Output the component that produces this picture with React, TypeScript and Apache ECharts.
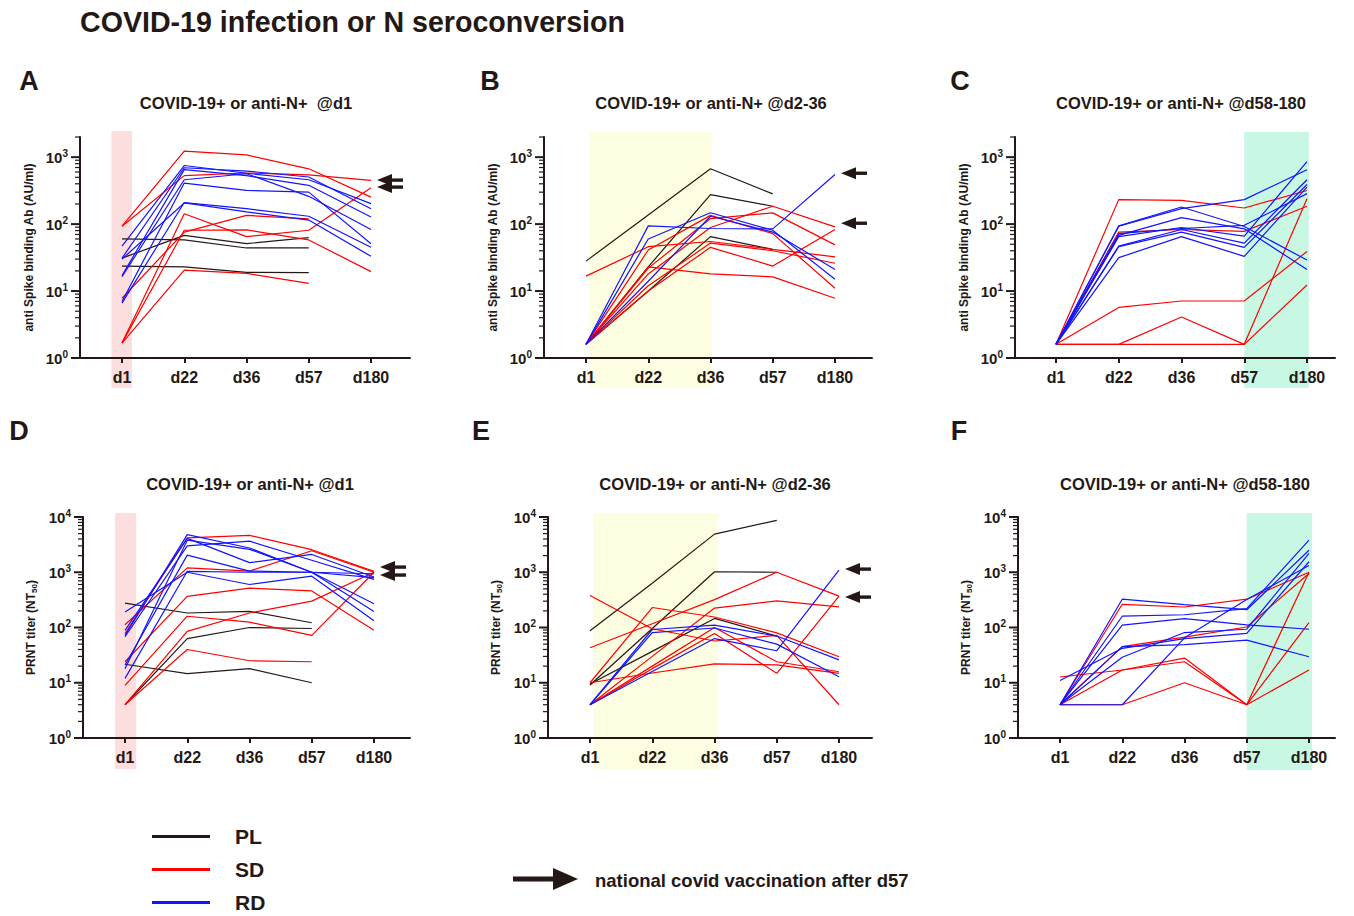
import React, { useEffect, useRef } from 'react';
import * as echarts from 'echarts';

const DAYS = ['d1', 'd22', 'd36', 'd57', 'd180'];
const GROUPS = ['PL', 'SD', 'RD'];

// Panel A: anti-Spike Ab, infected @d1
const A_PL = [[60, 58, 44, 44, null], [31, 68, 51, 63, null], [23.6, 23, 19, 18.8, null]];
const A_SD = [[93, 1230, 1080, 670, 253], [93, 530, 580, 545, 450], [1.67, 143, 65, 81, 350], [1.67, 81, 82, 58, 19.5], [1.67, 20.6, 18.4, 13, null], [7.8, 76, 135, 120, null]];
const A_RD = [[47, 750, 575, 460, 202], [31, 695, 620, 505, 170], [17, 650, 530, 380, 128], [16.4, 460, 565, 260, 83], [7, 410, 318, 300, 51], [6.6, 210, 170, 131, 45], [30, 207, 152, 115, 33]];
const A_ARROWS = [454, 357];

// Panel B: anti-Spike Ab, infected @d2-36
const B_PL = [[28, 137, 670, 283, null], [1.6, 23, 275, 185, null], [1.6, 10, 65, 42, null]];
const B_SD = [[16.7, 46, 55, 42, 32.5], [1.6, 41, 135, 72, 11], [1.6, 23, 18, 16.3, 7.8], [1.6, 22, 121, 147, 49], [1.6, 18, 89, 185, 91], [1.6, 12, 52, 40, 26], [1.6, 10, 45, 23.6, 83]];
const B_RD = [[1.6, 94, 86, 85, 550], [1.6, 60, 148, 81, 15], [1.6, 14, 131, 76, 21]];
const B_ARROWS = [575, 103];

// Panel C: anti-Spike Ab, infected @d58-180
const C_PL: (number | null)[][] = [];
const C_SD = [[1.6, 232, 226, 174, 318], [1.6, 76, 83, 78, 185], [1.6, 5.7, 7.1, 7.1, 39], [1.6, 1.6, 4.1, 1.6, 240], [1.6, 1.6, 1.6, 1.6, 12.3]];
const C_RD = [[1.6, 94, 180, 92, 29], [1.6, 93, 170, 232, 650], [1.6, 68, 125, 85, 21], [1.6, 65, 89, 66, 860], [1.6, 47, 83, 52, 460], [1.6, 46, 76, 45, 390], [1.6, 31.5, 65, 33, 357], [1.6, 72, 86, 96, 285]];
const C_ARROWS: number[] = [];

// Panel D: PRNT titer, infected @d1
const D_PL = [[277, 183, 196, 122, null], [4, 63, 100, 96, null], [21.6, 14.6, 18, 10, null]];
const D_SD = [[78, 4200, 4650, 2560, 1040], [112, 1200, 1050, 2450, 1000], [24, 365, 517, 460, 89], [9, 160, 125, 72, 1000], [4, 85, 183, 300, 1000], [4, 40, 25, 24, null]];
const D_RD = [[72, 4800, 2750, 1000, 195], [89, 4100, 1490, 2100, 820], [68, 3000, 3650, 1650, 745], [21, 2040, 1050, 1000, 270], [12, 1040, 1000, 1000, 940], [190, 1000, 600, 850, 132], [18, 3800, 2600, 1000, 800]];
const D_ARROWS = [1240, 890];

// Panel E: PRNT titer, infected @d2-36
const E_PL = [[87, 630, 4900, 8700, null], [9.1, 96, 1020, 1000, null], [9.5, 37, 146, 70, null]];
const E_SD = [[380, 95, 57, 72, 4], [43, 117, 320, 1000, 370], [10, 230, 155, 80, 29.5], [4, 30, 225, 303, 237], [10, 15, 22, 21, 14.8], [4, 18, 78, 14.8, 370], [4, 20, 100, 24, 15.8]];
const E_RD = [[4, 92, 110, 70, 26], [4, 81, 98, 50, 12.8], [4, 16, 63, 38, 1090]];
const E_ARROWS = [1140, 355];

// Panel F: PRNT titer, infected @d58-180
const F_PL: (number | null)[][] = [];
const F_SD = [[4, 263, 235, 325, 1000], [4, 45, 67, 102, 950], [12.7, 17, 28, 4, 1000], [4, 17, 24, 4, 123], [4, 4, 10, 4, 17]];
const F_RD = [[4, 325, 260, 210, 2500], [4, 160, 170, 220, 3800], [4, 110, 145, 112, 93], [11, 42, 63, 78, 1550], [4, 29, 81, 93, 2200], [4, 45, 49, 59, 29.5], [4, 4, 65, 320, 1330]];
const F_ARROWS: number[] = [];

const INK = '#231815';
const RED = '#ff0000';
const BLUE = '#1414ff';
const PINK = '#fcdede';
const YELLOW = '#fdfde2';
const MINT = '#c8f7e4';
const FONT = '"Liberation Sans", Arial, Helvetica, sans-serif';

const PANELS = [
  { letter: 'A', sub: 'COVID-19+ or anti-N+  @d1', left: 80, right: 410, d1: 122, d180: 371, top: 137, bottom: 358, max: 2000, yName: 'anti Spike binding Ab (AU/ml)', pl: A_PL, sd: A_SD, rd: A_RD, arrows: A_ARROWS, shade: [-0.17, 0.16], shadeColor: PINK, ext: [6, 30], lx: 29, ly: 81, sx: 246, sy: 103 },
  { letter: 'B', sub: 'COVID-19+ or anti-N+ @d2-36', left: 544, right: 872, d1: 586, d180: 835, top: 137, bottom: 358, max: 2000, yName: 'anti Spike binding Ab (AU/ml)', pl: B_PL, sd: B_SD, rd: B_RD, arrows: B_ARROWS, shade: [0.05, 2.02], shadeColor: YELLOW, ext: [5, 30], lx: 490, ly: 81, sx: 711, sy: 103 },
  { letter: 'C', sub: 'COVID-19+ or anti-N+ @d58-180', left: 1015, right: 1335, d1: 1056, d180: 1307, top: 137, bottom: 358, max: 2000, yName: 'anti Spike binding Ab (AU/ml)', pl: C_PL, sd: C_SD, rd: C_RD, arrows: C_ARROWS, shade: [3.0, 4.03], shadeColor: MINT, ext: [5, 30], lx: 960, ly: 81, sx: 1181, sy: 103 },
  { letter: 'D', sub: 'COVID-19+ or anti-N+ @d1', left: 83, right: 410, d1: 125, d180: 374, top: 517, bottom: 738, max: 10000, yName: 'PRNT titer (NT{sub|50})', pl: D_PL, sd: D_SD, rd: D_RD, arrows: D_ARROWS, shade: [-0.16, 0.18], shadeColor: PINK, ext: [4, 31], lx: 19, ly: 431, sx: 250, sy: 484 },
  { letter: 'E', sub: 'COVID-19+ or anti-N+ @d2-36', left: 548, right: 872, d1: 590, d180: 839, top: 517, bottom: 738, max: 10000, yName: 'PRNT titer (NT{sub|50})', pl: E_PL, sd: E_SD, rd: E_RD, arrows: E_ARROWS, shade: [0.05, 2.06], shadeColor: YELLOW, ext: [4, 32], lx: 481, ly: 431, sx: 715, sy: 484 },
  { letter: 'F', sub: 'COVID-19+ or anti-N+ @d58-180', left: 1018, right: 1335, d1: 1060, d180: 1309, top: 517, bottom: 738, max: 10000, yName: 'PRNT titer (NT{sub|50})', pl: F_PL, sd: F_SD, rd: F_RD, arrows: F_ARROWS, shade: [3.0, 4.05], shadeColor: MINT, ext: [4, 32], lx: 959, ly: 431, sx: 1185, sy: 484 },
];

function logTickValues(max: number) {
  const out: number[] = [];
  for (let e = 0; Math.pow(10, e) <= max; e++) {
    for (let m = 1; m <= 9; m++) {
      const v = m * Math.pow(10, e);
      if (v <= max * 1.0001) out.push(v);
    }
  }
  return out;
}

function buildOption() {
  const series: any[] = [];
  const graphic: any[] = [];

  PANELS.forEach((p, i) => {
    // shaded window
    series.push({
      type: 'custom',
      xAxisIndex: i,
      yAxisIndex: i,
      z: 1,
      silent: true,
      clip: false,
      data: [[p.shade[0], 1, p.shade[1]]],
      encode: { x: 0, y: 1 },
      renderItem: (params: any, api: any) => {
        const cs = params.coordSys;
        const x0 = api.coord([api.value(0), 1])[0];
        const x1 = api.coord([api.value(2), 1])[0];
        return {
          type: 'rect',
          shape: { x: x0, y: cs.y - p.ext[0], width: x1 - x0, height: cs.height + p.ext[0] + p.ext[1] },
          style: { fill: p.shadeColor },
        };
      },
    });
    // y-axis log ticks (major + minor)
    series.push({
      type: 'custom',
      xAxisIndex: i,
      yAxisIndex: i,
      z: 4,
      silent: true,
      clip: false,
      data: logTickValues(p.max).map((v) => [0, v]),
      encode: { x: 0, y: 1 },
      renderItem: (params: any, api: any) => {
        const cs = params.coordSys;
        const v = api.value(1);
        const y = api.coord([0, v])[1];
        const lg = Math.log10(v);
        const major = Math.abs(lg - Math.round(lg)) < 1e-6;
        const len = major ? 9 : 5;
        return {
          type: 'line',
          shape: { x1: cs.x - len, y1: y, x2: cs.x, y2: y },
          style: { stroke: INK, lineWidth: major ? 2 : 1.2 },
        };
      },
    });
    // lines
    const groups = [p.pl, p.sd, p.rd];
    const colors = [INK, RED, BLUE];
    groups.forEach((rows, g) => {
      rows.forEach((row: any[]) => {
        series.push({
          type: 'line',
          name: GROUPS[g],
          xAxisIndex: i,
          yAxisIndex: i,
          z: 3,
          silent: true,
          symbol: 'none',
          showSymbol: false,
          lineStyle: { color: colors[g], width: 1.2 },
          itemStyle: { color: colors[g] },
          emphasis: { disabled: true },
          data: row.map((v, j) => (v == null ? null : [j, v])).filter((d) => d != null),
        });
      });
    });
    // vaccination arrows
    if (p.arrows.length) {
      series.push({
        type: 'custom',
        xAxisIndex: i,
        yAxisIndex: i,
        z: 5,
        silent: true,
        clip: false,
        data: p.arrows.map((v) => [4, v]),
        encode: { x: 0, y: 1 },
        renderItem: (params: any, api: any) => {
          const pt = api.coord([api.value(0), api.value(1)]);
          const tx = pt[0] + 6;
          const ty = pt[1];
          return {
            type: 'group',
            children: [
              { type: 'polygon', shape: { points: [[tx, ty], [tx + 15, ty - 6], [tx + 15, ty + 6]] }, style: { fill: INK } },
              { type: 'rect', shape: { x: tx + 13, y: ty - 1.7, width: 13, height: 3.4 }, style: { fill: INK } },
            ],
          };
        },
      });
    }
    graphic.push({
      type: 'text', x: p.lx, y: p.ly,
      style: { text: p.letter, font: `bold 27px ${FONT}`, fill: INK, align: 'center', verticalAlign: 'middle' },
    });
    graphic.push({
      type: 'text', x: p.sx, y: p.sy,
      style: { text: p.sub, font: `bold 16.5px ${FONT}`, fill: INK, align: 'center', verticalAlign: 'middle' },
    });
  });

  graphic.push({
    type: 'text', x: 80, y: 22,
    style: { text: 'COVID-19 infection or N seroconversion', font: `bold 28.6px ${FONT}`, fill: INK, align: 'left', verticalAlign: 'middle' },
  });
  // legend arrow
  graphic.push({ type: 'rect', shape: { x: 513, y: 876.5, width: 42, height: 5 }, style: { fill: INK } });
  graphic.push({ type: 'polygon', shape: { points: [[553, 868], [578, 879], [553, 890]] }, style: { fill: INK } });
  graphic.push({
    type: 'text', x: 595, y: 880,
    style: { text: 'national covid vaccination after d57', font: `bold 18.5px ${FONT}`, fill: INK, align: 'left', verticalAlign: 'middle' },
  });

  return {
    animation: false,
    backgroundColor: '#ffffff',
    textStyle: { fontFamily: FONT },
    grid: PANELS.map((p) => ({ left: p.left, top: p.top, width: p.right - p.left, height: p.bottom - p.top })),
    xAxis: PANELS.map((p, i) => {
      const sp = (p.d180 - p.d1) / 4;
      return {
        type: 'value',
        gridIndex: i,
        min: -(p.d1 - p.left) / sp,
        max: 4 + (p.right - p.d180) / sp,
        z: 4,
        splitLine: { show: false },
        axisLine: { show: true, onZero: false, lineStyle: { color: INK, width: 2 } },
        axisTick: { show: true, customValues: [0, 1, 2, 3, 4], length: 5, lineStyle: { color: INK, width: 2 } },
        axisLabel: {
          customValues: [0, 1, 2, 3, 4],
          formatter: (v: number) => DAYS[Math.round(v)] ?? '',
          color: INK, fontSize: 16, fontWeight: 'bold', fontFamily: FONT, margin: 11,
        },
      };
    }),
    yAxis: PANELS.map((p, i) => ({
      type: 'log',
      logBase: 10,
      gridIndex: i,
      min: 1,
      max: p.max,
      z: 4,
      splitLine: { show: false },
      axisLine: { show: true, onZero: false, lineStyle: { color: INK, width: 2 } },
      axisTick: { show: false },
      axisLabel: {
        margin: 12,
        formatter: (v: number) => {
          const lg = Math.log10(v);
          const e = Math.round(lg);
          if (Math.abs(lg - e) > 1e-6) return '';
          return `{b|10}{s|${e}}`;
        },
        rich: {
          b: { fontSize: 15, fontWeight: 'bold', color: INK, fontFamily: FONT, lineHeight: 18 },
          s: { fontSize: 10, fontWeight: 'bold', color: INK, fontFamily: FONT, verticalAlign: 'top', lineHeight: 11 },
        },
      },
      name: p.yName,
      nameLocation: 'middle',
      nameGap: 45,
      nameTextStyle: {
        color: INK, fontSize: 12, fontWeight: 'bold', fontFamily: FONT,
        rich: { sub: { fontSize: 8, fontWeight: 'bold', color: INK, fontFamily: FONT, verticalAlign: 'bottom', padding: [6, 0, 0, 0] } },
      },
    })),
    legend: {
      data: GROUPS,
      orient: 'vertical',
      left: 152,
      top: 826,
      height: 90,
      icon: 'rect',
      itemWidth: 58,
      itemHeight: 3,
      itemGap: 12,
      padding: 0,
      selectedMode: false,
      textStyle: { fontSize: 21, lineHeight: 20, fontWeight: 'bold', color: INK, fontFamily: FONT, padding: [0, 0, 0, 20] },
    },
    graphic,
    series,
  };
}

export default function App() {
  const ref = useRef<HTMLDivElement>(null);
  useEffect(() => {
    if (!ref.current) return;
    const chart = echarts.init(ref.current, undefined, { renderer: 'svg' });
    chart.setOption(buildOption() as any);
    return () => chart.dispose();
  }, []);
  return <div ref={ref} style={{ position: 'fixed', left: 0, top: 0, width: 1354, height: 916, background: '#fff' }} />;
}
